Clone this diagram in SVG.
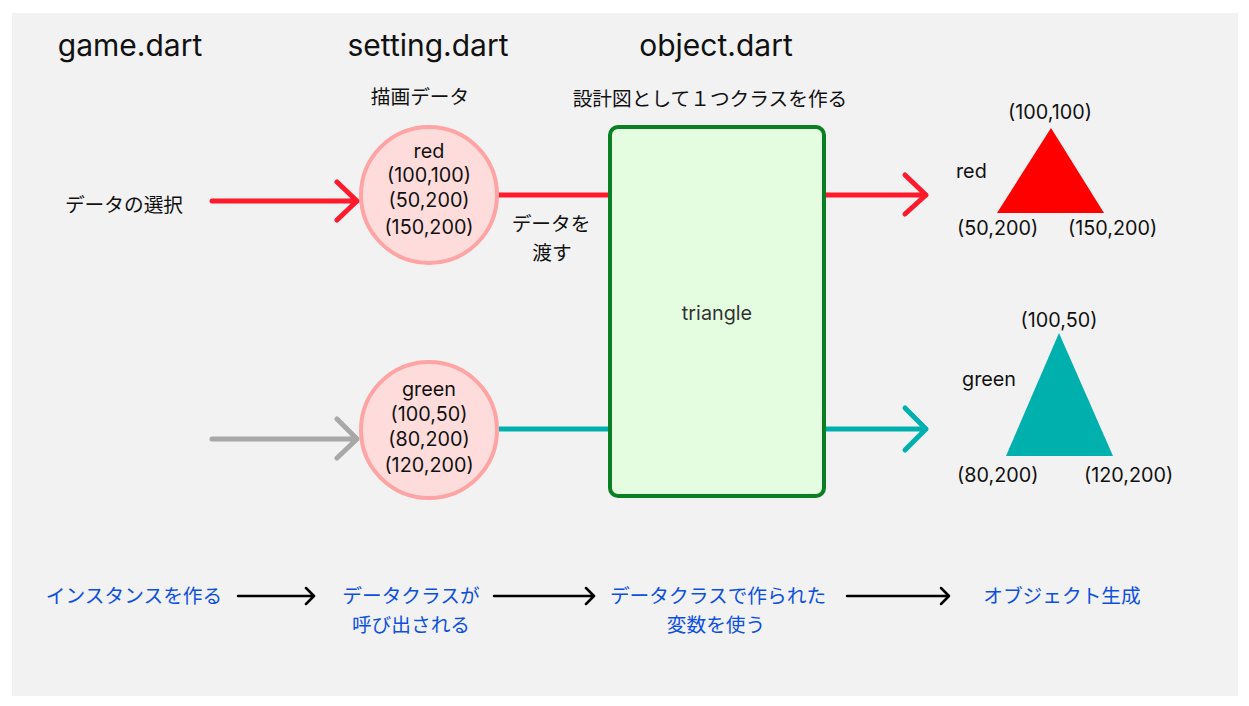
<svg xmlns="http://www.w3.org/2000/svg" width="1249" height="706" viewBox="0 0 1249 706">
<style>
.title{font-family:Inter,"Noto Sans",sans-serif;font-size:30px;fill:#111;}
.lat{font-family:Inter,"Noto Sans",sans-serif;font-size:19.8px;fill:#111;}
.jp{font-family:"Noto Sans CJK JP",sans-serif;font-size:19.7px;fill:#111;}
.blue{font-family:"Noto Sans CJK JP",sans-serif;font-size:19.7px;fill:#0d50e0;}
.mid{text-anchor:middle;}
.circ{fill:#ffdcdc;stroke:#ffa4a4;stroke-width:4;}
.conn{fill:none;stroke-linecap:round;stroke-linejoin:round;}
.red{stroke:#ff1a2b;stroke-width:5;}
.teal{stroke:#00b0ae;stroke-width:5;}
.gray{stroke:#a8a8a8;stroke-width:5;}
.blk{stroke:#000;stroke-width:2.5;}
</style>
<rect x="0" y="0" width="1249" height="706" fill="#ffffff"/>
<rect x="12" y="13" width="1226" height="683" fill="#f2f2f2"/>

<g id="headers">
<text class="title mid" x="130" y="56">game.dart</text>
<text class="title mid" x="428" y="56">setting.dart</text>
<text class="title mid" x="716" y="56">object.dart</text>
<text class="jp mid" x="420" y="104">描画データ</text>
<text class="jp mid" x="710" y="106">設計図として１つクラスを作る</text>
<text class="jp mid" x="124" y="212">データの選択</text>
<text class="jp mid" x="551" y="231">データを</text>
<text class="jp mid" x="552" y="260">渡す</text>
</g>

<g id="connectors">
<path class="conn red" d="M212 201 H357 M337 182 L357 201 L337 220"/>
<path class="conn gray" d="M212 439 H357 M337 419 L357 439 L337 458"/>
<path class="conn red" d="M499 195 H610" stroke-linecap="butt"/>
<path class="conn teal" d="M499 429 H610" stroke-linecap="butt"/>
<path class="conn red" d="M824 195 H926 M905 175 L926 195 L905 214"/>
<path class="conn teal" d="M824 429 H926 M905 408 L926 429 L905 450"/>
<path class="conn blk" d="M238 596 H314 M306 588 L314 596 L306 604"/>
<path class="conn blk" d="M494 596 H594 M586 588 L594 596 L586 604"/>
<path class="conn blk" d="M847 596 H949 M941 588 L949 596 L941 604"/>
</g>

<g id="node-red-data">
<circle class="circ" cx="429" cy="195" r="68"/>
<text class="lat mid" x="429" y="158">red</text>
<text class="lat mid" x="429" y="182">(100,100)</text>
<text class="lat mid" x="429" y="207">(50,200)</text>
<text class="lat mid" x="429" y="234">(150,200)</text>
</g>

<g id="node-green-data">
<circle class="circ" cx="429" cy="430" r="68"/>
<text class="lat mid" x="429" y="396">green</text>
<text class="lat mid" x="429" y="421">(100,50)</text>
<text class="lat mid" x="429" y="446">(80,200)</text>
<text class="lat mid" x="429" y="472">(120,200)</text>
</g>

<g id="node-triangle-class">
<rect x="610" y="127" width="214" height="369" rx="8" fill="#e4fde1" stroke="#0b7f24" stroke-width="4"/>
<text class="lat mid" x="717" y="320" style="fill:#333">triangle</text>
</g>

<g id="node-red-triangle">
<polygon points="1051,128 997,213 1104,213" fill="#ff0000"/>
<text class="lat mid" x="1050" y="119">(100,100)</text>
<text class="lat" x="956" y="178">red</text>
<text class="lat" x="957" y="235">(50,200)</text>
<text class="lat" x="1068" y="235">(150,200)</text>
</g>

<g id="node-green-triangle">
<polygon points="1059,333 1006,456 1113,456" fill="#00b0ad"/>
<text class="lat mid" x="1059" y="327">(100,50)</text>
<text class="lat" x="962" y="386">green</text>
<text class="lat" x="957" y="482">(80,200)</text>
<text class="lat" x="1084" y="482">(120,200)</text>
</g>

<g id="steps">
<text class="blue mid" x="134" y="603">インスタンスを作る</text>
<text class="blue mid" x="411" y="603">データクラスが</text>
<text class="blue mid" x="411" y="632">呼び出される</text>
<text class="blue mid" x="718" y="603">データクラスで作られた</text>
<text class="blue mid" x="716" y="632">変数を使う</text>
<text class="blue mid" x="1062" y="603">オブジェクト生成</text>
</g>
</svg>
